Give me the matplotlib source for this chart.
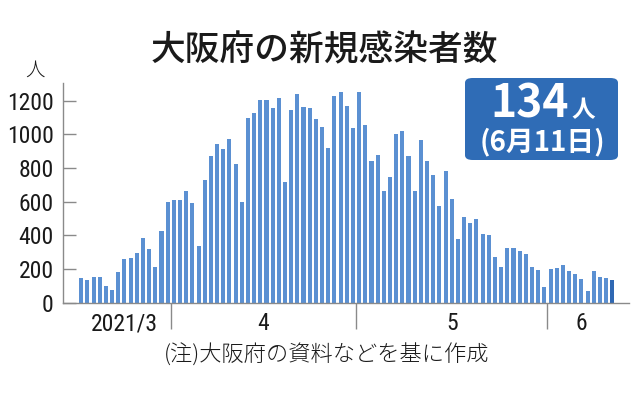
import matplotlib
matplotlib.use("Agg")
import matplotlib.pyplot as plt
from matplotlib import font_manager
from matplotlib.font_manager import FontProperties
from matplotlib.patches import FancyBboxPatch

# ---------------- data ----------------
months = ["2021/3", "4", "5", "6"]
mar = [145, 137, 154, 150, 97, 77, 180, 257, 263, 297, 384, 319, 212, 428, 596]
apr = [612, 612, 663, 590, 339, 729, 873, 940, 915, 970, 824, 596, 1095, 1127, 1204,
       1204, 1156, 1216, 715, 1146, 1238, 1162, 1156, 1091, 1045, 919, 1226, 1253, 1168, 1036]
may = [1253, 1053, 842, 879, 665, 744, 1002, 1018, 869, 665, 968, 843, 756, 572, 780,
       616, 378, 507, 471, 497, 410, 404, 273, 214, 325, 327, 305, 287, 214, 194, 95]
jun = [198, 208, 224, 186, 172, 143, 69, 186, 150, 145, 134]
month_values = [mar, apr, may, jun]
yticks = [0, 200, 400, 600, 800, 1000, 1200]
title = "大阪府の新規感染者数"
note = "(注)大阪府の資料などを基に作成"
unit = "人"
latest_value = "134"
latest_date = "(6月11日)"

# ---------------- fonts ----------------
cjk = "Noto Sans CJK JP"
plt.rcParams["font.family"] = [cjk, "DejaVu Sans"]


def find_narrow():
    files = [f for f in font_manager.fontManager.ttflist]
    prefs = ["LiberationSansNarrow-Regular", "Liberation Sans Narrow",
             "RobotoCondensed-Regular", "Roboto Condensed",
             "OpenSans_Condensed-Regular", "OpenSansCondensed",
             "DejaVuSansCondensed.ttf"]
    for p in prefs:
        for f in files:
            if p.lower() in f.fname.lower() or p == f.name:
                if "bold" not in f.fname.lower() and "italic" not in f.fname.lower() \
                        and "oblique" not in f.fname.lower():
                    return FontProperties(fname=f.fname), True
    for f in files:
        fn = f.fname.lower()
        if ("condensed" in fn or "narrow" in fn) and "bold" not in fn and \
                "italic" not in fn and "oblique" not in fn and "light" not in fn:
            return FontProperties(fname=f.fname), True
    return FontProperties(family="Liberation Sans"), False


narrow_fp, is_narrow = find_narrow()
tick_size = 17 if is_narrow else 15.5

values = [v for m in month_values for v in m]
n = len(values)
x = list(range(n))

bar_color = "#5b90d2"
last_color = "#2f68b3"
axis_color = "#8a8a8a"

W, H = 638, 396
fig = plt.figure(figsize=(W / 100, H / 100), dpi=100)
fig.patch.set_facecolor("white")

left_px, right_px, bottom_px, top_px = 63.3, 629, 302.7, 82.7
ax = fig.add_axes([left_px / W, 1 - bottom_px / H,
                   (right_px - left_px) / W, (bottom_px - top_px) / H])

colors = [bar_color] * (n - 1) + [last_color]
ax.bar(x, values, width=0.66, color=colors, linewidth=0)

ax.set_ylim(0, 1307)
ax.set_xlim(-2.9, 88.7)

for s in ["top", "right"]:
    ax.spines[s].set_visible(False)
for s in ["left", "bottom"]:
    ax.spines[s].set_color(axis_color)
    ax.spines[s].set_linewidth(1.0)

ax.set_yticks(yticks)
ax.set_yticklabels([str(t) for t in yticks])
for lab in ax.get_yticklabels():
    lab.set_fontproperties(narrow_fp)
    lab.set_fontsize(tick_size)
ax.tick_params(axis="y", direction="in", length=9, width=1, color=axis_color,
               pad=7, labelcolor="#1a1a1a")

# month boundaries as major ticks, month labels as minor ticks
bounds = []
centers = []
start = 0
for i, m in enumerate(month_values):
    centers.append(start + (len(m) - 1) / 2)
    if i > 0:
        bounds.append(start - 0.5)
    start += len(m)
ax.set_xticks(bounds)
ax.set_xticklabels([])
ax.tick_params(axis="x", which="major", direction="out", length=19, width=1,
               color=axis_color)
ax.set_xticks(centers, minor=True)
ax.set_xticklabels(months, minor=True)
for lab in ax.get_xticklabels(minor=True):
    lab.set_fontproperties(narrow_fp)
    lab.set_fontsize(tick_size)
ax.tick_params(axis="x", which="minor", length=0, pad=7, labelcolor="#1a1a1a")

# texts
fig.text(324 / W, 1 - 50 / H, title, ha="center", va="center",
         fontsize=25, fontweight="medium", color="#1a1a1a")
fig.text(35 / W, 1 - 70 / H, unit, ha="center", va="center",
         fontsize=14, fontweight="light", color="#1a1a1a")
fig.text(327 / W, 1 - 355 / H, note, ha="center", va="center",
         fontsize=16, fontweight="light", color="#1a1a1a")

# highlight box
bx0, bx1, by0, by1 = 465, 618, 78, 160
box = FancyBboxPatch((bx0 / W, 1 - by1 / H), (bx1 - bx0) / W, (by1 - by0) / H,
                     boxstyle="round,pad=0,rounding_size=0.012",
                     transform=fig.transFigure, facecolor="#2f6cb6",
                     edgecolor="none", zorder=5)
fig.patches.append(box)
fig.text(530 / W, 1 - 104 / H, latest_value, ha="center", va="center",
         fontsize=32, fontweight="bold", color="white", zorder=6)
fig.text(583 / W, 1 - 110 / H, unit, ha="center", va="center",
         fontsize=17, fontweight="bold", color="white", zorder=6)
fig.text(542 / W, 1 - 142 / H, latest_date, ha="center", va="center",
         fontsize=20, fontweight="bold", color="white", zorder=6)

fig.savefig("out.png", dpi=100, facecolor="white")
